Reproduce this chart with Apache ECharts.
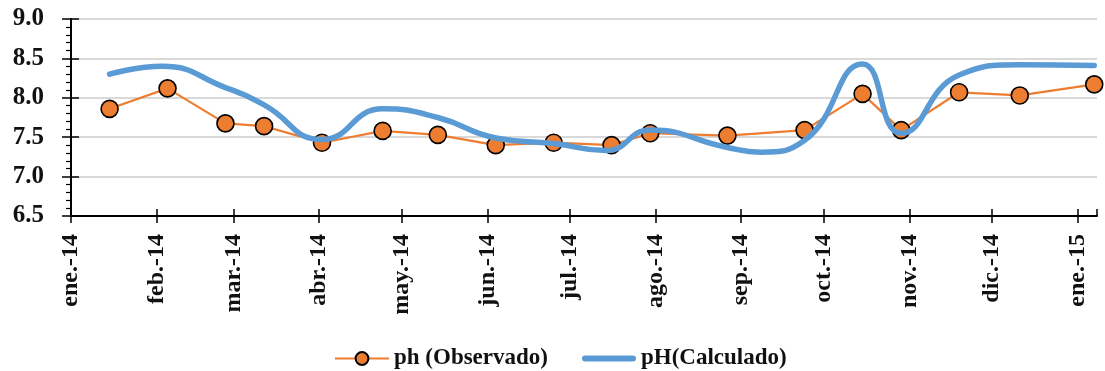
<!DOCTYPE html>
<html>
<head>
<meta charset="utf-8">
<script src="https://cdn.jsdelivr.net/npm/echarts@6/dist/echarts.min.js"></script>
<style>
html,body{margin:0;padding:0;background:#fff;}
#c{width:1105px;height:371px;}
</style>
</head>
<body>
<div id="c"></div>
<script>
// Observed samples
var obsDates = ['2014-01-15','2014-02-05','2014-02-26','2014-03-12','2014-04-02','2014-04-24','2014-05-14','2014-06-04','2014-06-25','2014-07-16','2014-07-30','2014-08-27','2014-09-24','2014-10-15','2014-10-29','2014-11-19','2014-12-11','2015-01-07'];
var observado = [7.86, 8.12, 7.675, 7.64, 7.43, 7.58, 7.53, 7.40, 7.43, 7.40, 7.55, 7.52, 7.59, 8.05, 7.59, 8.07, 8.03, 8.17];
// Calculated curve
var calcDates = ['2014-01-15','2014-02-03','2014-02-26','2014-03-12','2014-04-02','2014-04-24','2014-05-14','2014-06-04','2014-06-25','2014-07-14','2014-07-30','2014-08-27','2014-09-08','2014-09-24','2014-10-15','2014-10-29','2014-11-19','2014-12-11','2015-01-07'];
var calculado = [8.30, 8.40, 8.13, 7.91, 7.47, 7.86, 7.75, 7.49, 7.42, 7.33, 7.59, 7.37, 7.31, 7.46, 8.43, 7.55, 8.29, 8.42, 8.41];
var monthNames = ['ene.','feb.','mar.','abr.','may.','jun.','jul.','ago.','sep.','oct.','nov.','dic.'];
var xMin = '2014-01-01', xMax = '2015-01-08';
var yMin = 6.5, yMax = 9.0, yStep = 0.5;
var seriesNames = ['ph (Observado)', 'pH(Calculado)'];

var FONT = '"Liberation Serif", "DejaVu Serif", serif';
function pairs(ds, vals){ return ds.map(function(d,i){ return [d, vals[i]]; }); }
function fmt(v){ var d = new Date(v); var yy = String(d.getFullYear()).slice(2); return monthNames[d.getMonth()] + '-' + yy; }
var DAY = 86400000;

var chart = echarts.init(document.getElementById('c'), null, {renderer:'canvas'});
var xCommon = {
  type:'time', min:xMin, max:xMax, splitNumber:13,
  minInterval: 28*DAY, maxInterval: 31*DAY,
  splitLine:{show:false}
};
chart.setOption({
  animation:false,
  backgroundColor:'#fff',
  grid:{left:71, right:8, top:19, bottom:155, containLabel:false},
  legend:{
    top:342, left:329, itemWidth:54, itemHeight:16, itemGap:34,
    textStyle:{fontFamily:FONT, fontWeight:'bold', fontSize:23, color:'#111'},
    data:[
      {name:seriesNames[0]},
      {name:seriesNames[1], icon:'path://M3,0 L51,0 A3,3 0 0 1 51,6 L3,6 A3,3 0 0 1 3,0 Z', itemStyle:{color:'#5B9BD5'}}
    ]
  },
  xAxis:[
    Object.assign({}, xCommon, {
      position:'bottom',
      axisLine:{show:true, lineStyle:{color:'#000', width:2}},
      axisTick:{show:true, length:7, lineStyle:{color:'#000', width:1.5}},
      axisLabel:{rotate:90, margin:18, formatter:fmt, fontFamily:FONT, fontWeight:'bold', fontSize:24, color:'#111', showMaxLabel:false}
    }),
    Object.assign({}, xCommon, {
      position:'bottom',
      axisLine:{show:false},
      axisTick:{show:true, inside:true, length:7, lineStyle:{color:'#000', width:1.5}},
      axisLabel:{show:false}
    })
  ],
  yAxis:[
    {
      type:'value', min:yMin, max:yMax, interval:yStep,
      axisLine:{show:true, lineStyle:{color:'#000', width:2}},
      axisTick:{show:true, length:9, lineStyle:{color:'#000', width:1.5}},
      minorTick:{show:true, splitNumber:5, length:5, lineStyle:{color:'#000', width:1.2}},
      splitLine:{show:true, lineStyle:{color:'#d9d9d9', width:2}},
      axisLabel:{margin:27, formatter:function(v){return v.toFixed(1);}, fontFamily:FONT, fontWeight:'bold', fontSize:25, color:'#111'}
    },
    {
      type:'value', min:yMin, max:yMax, interval:yStep, position:'left',
      axisLine:{show:false},
      axisTick:{show:true, inside:true, length:8, lineStyle:{color:'#000', width:1.5}},
      axisLabel:{show:false}, splitLine:{show:false}
    }
  ],
  series:[
    {
      name:seriesNames[0], type:'line', data:pairs(obsDates, observado),
      symbol:'circle', symbolSize:17,
      lineStyle:{color:'#ED7D31', width:2.2},
      itemStyle:{color:'#ED7D31', borderColor:'#000', borderWidth:1.6},
      z:2
    },
    {
      name:seriesNames[1], type:'line', data:pairs(calcDates, calculado),
      smooth:0.5, showSymbol:false, symbol:'none',
      lineStyle:{color:'#5B9BD5', width:5.5, cap:'round', join:'round'},
      itemStyle:{color:'#5B9BD5'},
      z:3
    }
  ]
});
</script>
</body>
</html>
